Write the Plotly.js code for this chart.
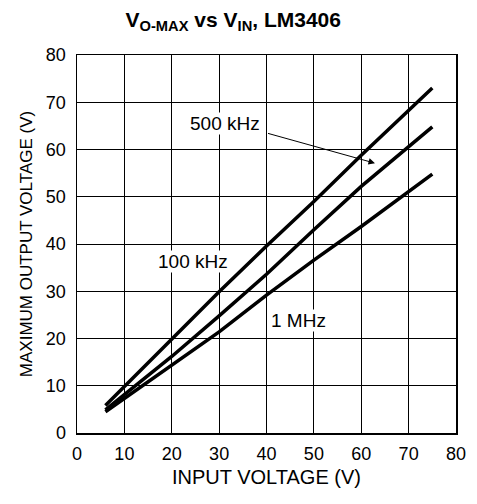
<!DOCTYPE html>
<html>
<head>
<meta charset="utf-8">
<script src="https://cdn.plot.ly/plotly-3.0.1.min.js"></script>
<style>html,body{margin:0;padding:0;background:#fff;}#chart{width:477px;height:504px;}</style>
</head>
<body>
<div id="chart"></div>
<script>
// Input voltage (V) -> maximum output voltage (V)
const vin100k = [6, 20, 30, 40, 50, 60, 75];
const vout100k = [5.8, 20, 29.9, 39.6, 49, 58.8, 73];
const vin500k = [6, 20, 30, 40, 50, 60, 75];
const vout500k = [4.9, 16.2, 24.8, 33.6, 43, 52.2, 64.8];
const vin1M = [6, 20, 30, 40, 50, 60, 70, 75];
const vout1M = [4.5, 14.4, 21.4, 29.2, 36.6, 43.7, 51.2, 54.8];
const seriesNames = ["100 kHz", "500 kHz", "1 MHz"];
const xTicks = [0, 10, 20, 30, 40, 50, 60, 70, 80];
const yTicks = [0, 10, 20, 30, 40, 50, 60, 70, 80];

const font = "Liberation Sans, Arial, sans-serif";
const lineStyle = {color: "#000", width: 3.5};
const traces = [
  {x: vin100k, y: vout100k, name: seriesNames[0], mode: "lines", line: lineStyle},
  {x: vin500k, y: vout500k, name: seriesNames[1], mode: "lines", line: lineStyle},
  {x: vin1M, y: vout1M, name: seriesNames[2], mode: "lines", line: lineStyle}
];

const axisCommon = {
  range: [0, 80],
  showgrid: true, gridcolor: "#000", gridwidth: 1,
  showline: true, linecolor: "#000", linewidth: 1.5, mirror: true,
  zeroline: false, ticks: "",
  tickfont: {family: font, size: 18, color: "#000"},
  fixedrange: true
};

const layout = {
  width: 477, height: 504,
  margin: {l: 77, r: 21, t: 55, b: 71},
  paper_bgcolor: "#fff", plot_bgcolor: "#fff",
  showlegend: false,
  title: {text: "<b>V<sub>O-MAX</sub> vs V<sub>IN</sub>, LM3406</b>", x: 0.489, xanchor: "center", y: 0.962, yanchor: "middle",
          font: {family: font, size: 21, color: "#000"}},
  xaxis: Object.assign({}, axisCommon, {
    tickvals: xTicks, ticktext: xTicks.map(String), ticklabelstandoff: 4,
    title: {text: "INPUT VOLTAGE (V)", font: {family: font, size: 20, color: "#000"}, standoff: 7}
  }),
  yaxis: Object.assign({}, axisCommon, {
    tickvals: yTicks, ticktext: yTicks.map(String), ticklabelstandoff: 6,
    title: {text: "MAXIMUM OUTPUT VOLTAGE (V)", font: {family: font, size: 17, color: "#000"}, standoff: 9}
  }),
  annotations: [
    {x: 62.9, y: 57.1, ax: 40, ay: 63.5, axref: "x", ayref: "y", xref: "x", yref: "y",
     showarrow: true, arrowhead: 2, arrowsize: 1.3, arrowwidth: 1, arrowcolor: "#000", text: ""},
    {x: 31.2, y: 65.4, xref: "x", yref: "y", text: seriesNames[1], showarrow: false,
     font: {family: font, size: 19, color: "#000"}, bgcolor: "#fff", borderpad: 0},
    {x: 24.5, y: 36.3, xref: "x", yref: "y", text: seriesNames[0], showarrow: false,
     font: {family: font, size: 19, color: "#000"}, bgcolor: "#fff", borderpad: 0},
    {x: 46.7, y: 23.9, xref: "x", yref: "y", text: seriesNames[2], showarrow: false,
     font: {family: font, size: 19, color: "#000"}, bgcolor: "#fff", borderpad: 0}
  ]
};

Plotly.newPlot("chart", traces, layout, {staticPlot: true, displayModeBar: false});
</script>
</body>
</html>
